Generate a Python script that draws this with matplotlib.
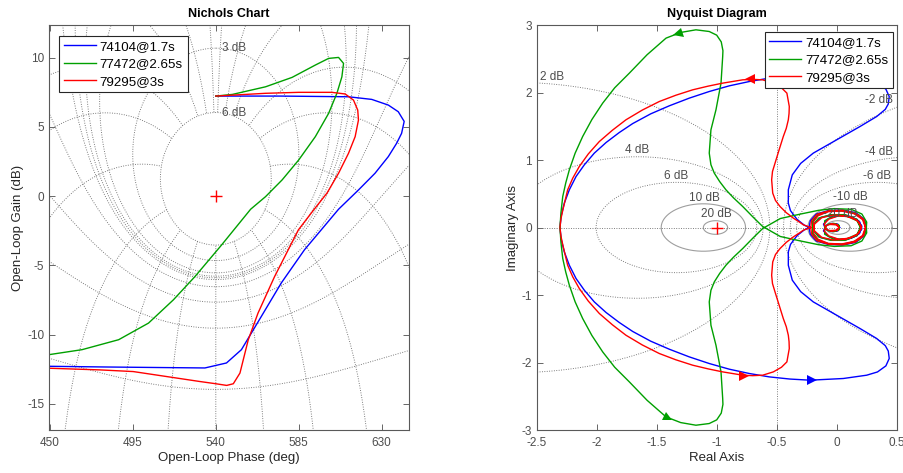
import numpy as np
import matplotlib.pyplot as plt
from matplotlib.markers import MarkerStyle
from matplotlib.transforms import Affine2D

plt.rcParams['font.family'] = ['Liberation Sans', 'DejaVu Sans']
plt.rcParams['axes.unicode_minus'] = False

names = ['74104@1.7s', '77472@2.65s', '79295@3s']
colors = ['#0000ff', '#00a000', '#ff0000']

# ---- Nichols chart data (open-loop phase deg / gain dB)
blue_phase = [540, 575, 612, 624.6, 633.6, 639, 642.2, 640.8, 638.1, 633.6, 626.4, 617.4, 606.6,
              588.1, 575.5, 564.7, 553.9, 545.8, 534.1, 510, 480, 449.5]
blue_gain = [7.23, 7.23, 7.18, 6.99, 6.58, 6.10, 5.40, 4.54, 3.82, 2.86, 1.66, 0.45, -0.94,
             -3.87, -6.27, -8.68, -11.08, -12.04, -12.40, -12.37, -12.33, -12.28]

green_phase = [540, 549, 567, 581.4, 594, 601.2, 606.6, 609.3, 608.4, 605.7, 601.2, 594, 585, 576,
               567, 558.9, 543.2, 528.7, 517, 503.5, 487.3, 467.4, 449.5]
green_gain = [7.23, 7.35, 7.90, 8.58, 9.47, 9.95, 10.02, 9.59, 8.62, 7.43, 5.98, 4.30, 2.62, 1.18,
              -0.03, -0.94, -3.51, -5.80, -7.48, -9.16, -10.36, -11.08, -11.44]

red_phase = [540, 567, 585, 603, 610.2, 614.7, 617, 617.4, 615.6, 612, 606.6, 600.3, 593.1,
             584.8, 571.9, 562.9, 557.6, 553.1, 549.5, 545.9, 539.5, 531.4, 513.3, 495.2, 477.1, 449.5]
red_gain = [7.23, 7.43, 7.50, 7.50, 7.38, 6.94, 6.22, 5.50, 4.30, 3.10, 1.66, 0.22, -0.99,
            -2.43, -5.80, -8.44, -10.37, -12.77, -13.54, -13.66, -13.53, -13.38, -13.02, -12.66, -12.54, -12.42]

# ---- Nyquist data, positive frequencies (lower half)
blue_re = [-2.306, -2.297, -2.27, -2.228, -2.172, -2.103, -2.02, -1.922, -1.812, -1.7, -1.55, -1.395,
           -1.228, -1.062, -0.895, -0.728, -0.562, -0.39, -0.222, 0.055, 0.25, 0.34, 0.41, 0.438,
           0.43, 0.405, 0.333, 0.194, 0.0, -0.195, -0.3, -0.37, -0.403, -0.403, -0.385, -0.33, -0.27,
           -0.23, -0.22, -0.17, -0.07, 0.05, 0.16, 0.23, 0.245, 0.22, 0.15, 0.04, -0.07, -0.16, -0.20,
           -0.19, -0.13, -0.03, 0.08, 0.17, 0.21, 0.19, 0.12, 0.02, -0.07, -0.11, -0.09, -0.04, 0.01,
           0.025, 0.0, -0.05]
blue_im = [0, -0.163, -0.361, -0.559, -0.756, -0.929, -1.102, -1.259, -1.407, -1.54, -1.684, -1.803,
           -1.917, -2.015, -2.099, -2.163, -2.213, -2.245, -2.262, -2.237, -2.188, -2.14, -2.05, -1.94,
           -1.83, -1.75, -1.644, -1.496, -1.3, -1.102, -0.95, -0.78, -0.559, -0.361, -0.25, -0.12,
           -0.035, 0.0, 0.10, 0.20, 0.25, 0.26, 0.22, 0.12, 0.0, -0.12, -0.21, -0.25, -0.24, -0.18,
           -0.08, 0.05, 0.15, 0.19, 0.18, 0.12, 0.02, -0.09, -0.16, -0.18, -0.13, -0.05, 0.03, 0.06,
           0.05, 0.0, -0.045, -0.05]

green_re = [-2.306, -2.298, -2.283, -2.258, -2.228, -2.18, -2.117, -2.04, -1.95, -1.85, -1.728, -1.58,
            -1.422, -1.3, -1.173, -1.062, -1.0, -0.962, -0.948, -0.95, -0.964, -1.006, -1.048, -1.062,
            -1.048, -1.02, -0.975, -0.923, -0.86, -0.783, -0.70, -0.617, -0.47, -0.3, -0.15, -0.02,
            0.12, 0.21, 0.25, 0.245, 0.19, 0.08, -0.05, -0.15, -0.2, -0.2, -0.15, -0.05, 0.07, 0.17,
            0.2, 0.17, 0.08, -0.03, -0.1, -0.1, -0.07, -0.02, 0.02, 0.02, -0.03]
green_im = [0, -0.22, -0.459, -0.66, -0.855, -1.1, -1.348, -1.6, -1.843, -2.07, -2.287, -2.56,
            -2.806, -2.89, -2.929, -2.904, -2.85, -2.75, -2.62, -2.533, -2.139, -1.744, -1.447, -1.102,
            -0.93, -0.806, -0.68, -0.559, -0.44, -0.311, -0.16, -0.015, 0.133, 0.2, 0.255, 0.28,
            0.27, 0.2, 0.08, -0.06, -0.18, -0.245, -0.25, -0.2, -0.1, 0.03, 0.14, 0.19, 0.19, 0.12,
            0.01, -0.1, -0.17, -0.17, -0.1, 0.0, 0.05, 0.06, 0.03, -0.03, -0.06]

red_re = [-2.306, -2.298, -2.282, -2.242, -2.2, -2.145, -2.07, -1.978, -1.87, -1.756, -1.62, -1.478,
          -1.34, -1.2, -1.07, -0.95, -0.86, -0.783, -0.70, -0.617, -0.528, -0.46, -0.415, -0.395,
          -0.397, -0.403, -0.42, -0.445, -0.48, -0.514, -0.535, -0.542, -0.533, -0.51, -0.472, -0.42,
          -0.361, -0.31, -0.278, -0.215, -0.21, -0.165, -0.07, 0.05, 0.155, 0.225, 0.24, 0.215, 0.145,
          0.04, -0.07, -0.155, -0.195, -0.185, -0.125, -0.03, 0.075, 0.165, 0.205, 0.185, 0.115, 0.02,
          -0.065, -0.105, -0.085, -0.04, 0.005, 0.02, -0.005, -0.05]
red_im = [0, -0.13, -0.262, -0.559, -0.73, -0.904, -1.09, -1.274, -1.44, -1.596, -1.74, -1.867,
          -1.96, -2.04, -2.095, -2.139, -2.165, -2.188, -2.195, -2.188, -2.139, -2.07, -1.991, -1.793,
          -1.69, -1.596, -1.47, -1.348, -1.15, -0.954, -0.83, -0.707, -0.51, -0.40, -0.311, -0.22,
          -0.139, -0.08, -0.04, 0.0, 0.10, 0.195, 0.245, 0.255, 0.215, 0.12, 0.0, -0.12, -0.205,
          -0.245, -0.235, -0.175, -0.08, 0.05, 0.145, 0.185, 0.175, 0.115, 0.02, -0.085, -0.155,
          -0.175, -0.125, -0.05, 0.03, 0.055, 0.045, 0.0, -0.04, -0.045]

# arrow heads on the Nyquist curves: (re, im, direction deg)
blue_arrows = [(-0.208, -2.262, 0), (-0.208, 2.262, 180)]
green_arrows = [(-1.408, -2.82, -25), (-1.325, 2.874, 195)]
red_arrows = [(-0.77, -2.198, -2), (-0.72, 2.2, 182)]

grid_col = '0.42'
text_col = '0.3'


def nichols_grid(ax):
    gdb = [6, 3, 1, 0.5, 0.25, 0, -1, -3, -6, -12, -20, -40]
    th = np.radians(np.linspace(-359.95, -0.05, 4001))
    for g in gdb:
        m = 10 ** (g / 20.0)
        t = m * np.exp(1j * th)
        h = t / (1 - t)
        ph = np.degrees(np.unwrap(np.angle(h)))
        ph = ph + 540 - ph[len(ph) // 2]
        ax.plot(ph, 20 * np.log10(np.abs(h)), ':', color=grid_col, lw=0.65)
    pdeg = [1, 5, 10, 20, 30, 50, 90, 120, 150, 180]
    mags = 10 ** (np.linspace(-60, 6, 3000) / 20.0)
    for p in pdeg + [-x for x in pdeg[:-1]]:
        t = mags * np.exp(1j * np.radians(p))
        h = t / (1 - t)
        ph = np.degrees(np.unwrap(np.angle(h)))
        ph = ph + (720 if p < 0 else 360)
        ax.plot(ph, 20 * np.log10(np.abs(h)), ':', color=grid_col, lw=0.65)
    ax.text(543.5, 10.69, '3 dB', va='center', ha='left', fontsize=8.5, color=text_col)
    ax.text(543.5, 6.04, '6 dB', va='center', ha='left', fontsize=8.5, color=text_col)


def nyquist_grid(ax):
    t = np.linspace(0, 2 * np.pi, 721)
    for g in [-20, -10, -6, -4, -2, 2, 4, 6, 10, 20]:
        m = 10 ** (g / 20.0)
        c = -m * m / (m * m - 1)
        r = abs(m / (m * m - 1))
        if abs(g) >= 10:
            ax.plot(c + r * np.cos(t), r * np.sin(t), '-', color='0.62', lw=0.8)
        else:
            ax.plot(c + r * np.cos(t), r * np.sin(t), ':', color=grid_col, lw=0.65)
    ax.axvline(-0.5, ls=':', color=grid_col, lw=0.65)
    ax.axhline(0, ls=':', color=grid_col, lw=0.65)
    lab = [('2 dB', -2.37, 2.23), ('4 dB', -1.66, 1.145), ('6 dB', -1.34, 0.765),
           ('10 dB', -1.10, 0.444), ('20 dB', -1.005, 0.197), ('-2 dB', 0.35, 1.886),
           ('-4 dB', 0.35, 1.12), ('-6 dB', 0.335, 0.765), ('-10 dB', 0.11, 0.454),
           ('-20 dB', 0.03, 0.207)]
    for s, x, y in lab:
        ax.text(x, y, s, ha='center', va='center', fontsize=8.5, color=text_col)


def style_axes(ax):
    ax.tick_params(direction='in', top=True, right=True, length=4, width=0.6,
                   color='0.3', labelcolor='0.3', labelsize=8.5)
    ax.tick_params(axis='x', pad=5)
    for sp in ax.spines.values():
        sp.set_color('0.35')
        sp.set_linewidth(0.8)


fig = plt.figure(figsize=(9.04, 4.73), dpi=100)
ax1 = fig.add_axes([0.0542, 0.0909, 0.3982, 0.8562])
ax2 = fig.add_axes([0.5937, 0.0909, 0.3982, 0.8562])

# ---- Nichols chart
nichols_grid(ax1)
h1 = []
for ph, g, c, n in [(blue_phase, blue_gain, colors[0], names[0]),
                    (green_phase, green_gain, colors[1], names[1]),
                    (red_phase, red_gain, colors[2], names[2])]:
    ln, = ax1.plot(ph, g, '-', color=c, lw=1.0, label=n)
    h1.append(ln)
ax1.plot(540, 0, '+', color='red', ms=8, mew=1.0)
ax1.set_xlim(449.5, 644.8)
ax1.set_ylim(-16.88, 12.36)
ax1.set_xticks([450, 495, 540, 585, 630])
ax1.set_yticks([-15, -10, -5, 0, 5, 10])
ax1.set_title('Nichols Chart', fontsize=9, fontweight='bold', pad=6)
ax1.set_xlabel('Open-Loop Phase (deg)', fontsize=9.5, color='0.15', labelpad=2)
ax1.set_ylabel('Open-Loop Gain (dB)', fontsize=9.5, color='0.15', labelpad=2)
style_axes(ax1)
leg1 = ax1.legend(handles=h1, loc='upper left', bbox_to_anchor=(0.028, 0.973), borderaxespad=0,
                  fontsize=9.6, handlelength=2.4, handletextpad=0.3, labelspacing=0.38,
                  borderpad=0.35, fancybox=False, framealpha=1, edgecolor='0.15')
leg1.get_frame().set_linewidth(0.8)

# ---- Nyquist diagram
nyquist_grid(ax2)
h2 = []
for re, im, arr, c, n in [(blue_re, blue_im, blue_arrows, colors[0], names[0]),
                          (green_re, green_im, green_arrows, colors[1], names[1]),
                          (red_re, red_im, red_arrows, colors[2], names[2])]:
    re = np.array(re)
    im = np.array(im)
    full_re = np.concatenate([re[::-1], re[1:]])
    full_im = np.concatenate([-im[::-1], im[1:]])
    ln, = ax2.plot(full_re, full_im, '-', color=c, lw=1.0, label=n)
    h2.append(ln)
    for x, y, a in arr:
        mk = MarkerStyle('>', transform=Affine2D().rotate_deg(a))
        ax2.plot(x, y, marker=mk, color=c, ms=7, mew=0)
ax2.plot(-1, 0, '+', color='red', ms=8, mew=1.0)
ax2.set_xlim(-2.5, 0.5)
ax2.set_ylim(-3, 3)
ax2.set_xticks([-2.5, -2, -1.5, -1, -0.5, 0, 0.5])
ax2.set_xticklabels(['-2.5', '-2', '-1.5', '-1', '-0.5', '0', '0.5'])
ax2.set_yticks([-3, -2, -1, 0, 1, 2, 3])
ax2.set_yticklabels(['-3', '-2', '-1', '0', '1', '2', '3'])
ax2.set_title('Nyquist Diagram', fontsize=9, fontweight='bold', pad=6)
ax2.set_xlabel('Real Axis', fontsize=9.5, color='0.15', labelpad=2)
ax2.set_ylabel('Imaginary Axis', fontsize=9.5, color='0.15', labelpad=2)
style_axes(ax2)
leg2 = ax2.legend(handles=h2, loc='upper right', bbox_to_anchor=(0.99, 0.983), borderaxespad=0,
                  fontsize=9.6, handlelength=2.4, handletextpad=0.3, labelspacing=0.38,
                  borderpad=0.35, fancybox=False, framealpha=1, edgecolor='0.15')
leg2.get_frame().set_linewidth(0.8)

fig.savefig('out.png', dpi=100)
